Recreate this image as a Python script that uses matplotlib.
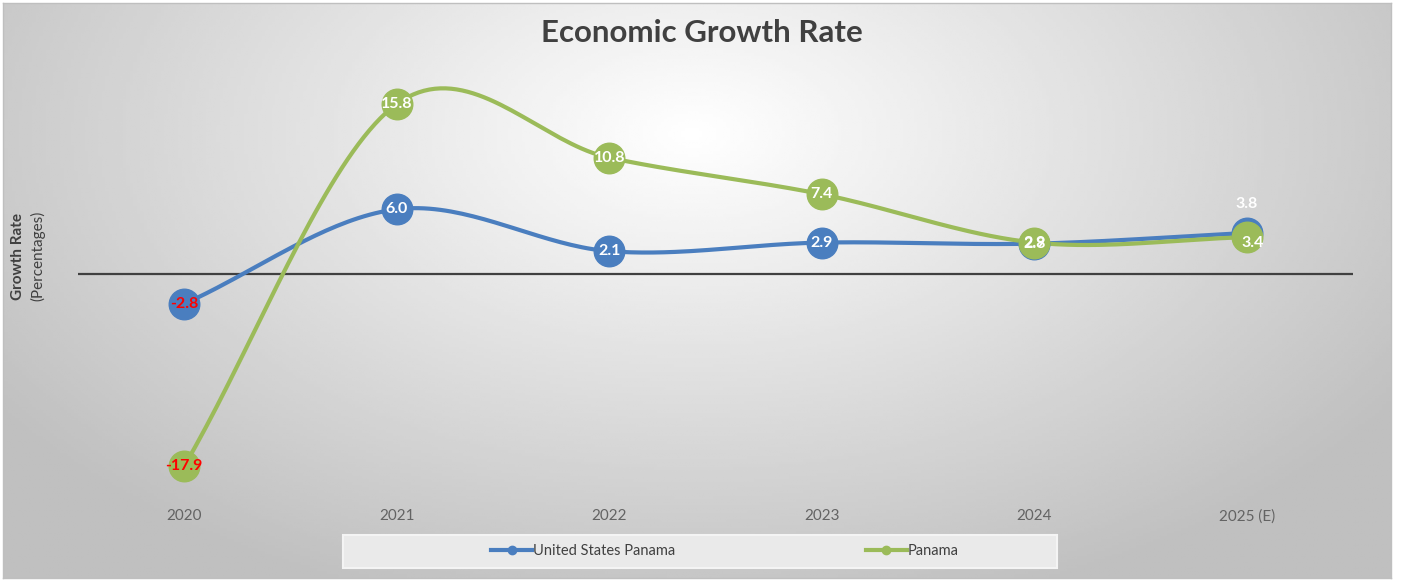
import numpy as np
import matplotlib
matplotlib.use('Agg')
import matplotlib.pyplot as plt
from matplotlib.patches import Rectangle
from matplotlib.lines import Line2D

# growth rates (%) by year
years = ['2020', '2021', '2022', '2023', '2024', '2025 (E)']
us_growth = [-2.8, 6.0, 2.1, 2.9, 2.8, 3.8]
panama_growth = [-17.9, 15.8, 10.8, 7.4, 2.9, 3.4]
series_names = ['United States Panama', 'Panama']

BLUE = '#4A7EBF'
GREEN = '#9BBB59'

plt.rcParams['font.family'] = ['Lato', 'DejaVu Sans']


def smooth(xs, ys, n=40):
    # Catmull-Rom curve through the points, like a spreadsheet "smoothed line"
    px = np.concatenate([[2 * xs[0] - xs[1]], xs, [2 * xs[-1] - xs[-2]]])
    py = np.concatenate([[2 * ys[0] - ys[1]], ys, [2 * ys[-1] - ys[-2]]])
    out_x, out_y = [], []
    t = np.linspace(0, 1, n)
    for i in range(1, len(px) - 2):
        for p, out in ((px, out_x), (py, out_y)):
            p0, p1, p2, p3 = p[i - 1], p[i], p[i + 1], p[i + 2]
            c1 = p1 + (p2 - p0) / 6
            c2 = p2 - (p3 - p1) / 6
            out.extend((1 - t) ** 3 * p1 + 3 * (1 - t) ** 2 * t * c1
                       + 3 * (1 - t) * t ** 2 * c2 + t ** 3 * p2)
    return np.array(out_x), np.array(out_y)


fig = plt.figure(figsize=(14.03, 5.81), dpi=100)

# gray radial backdrop of the chart area
bg = fig.add_axes([3 / 1403, 3 / 581, 1388 / 1403, 575 / 581])
gx, gy = np.meshgrid(np.linspace(0, 1388, 400), np.linspace(0, 575, 200))
d = np.sqrt(((gx - 690) / 850) ** 2 + ((gy - 130) / 500) ** 2)
shade = 1.0 - 0.25 * np.clip(d, 0, 1) ** 1.0
bg.imshow(shade, cmap='gray', vmin=0, vmax=1, aspect='auto',
          extent=[0, 1388, 575, 0])
bg.set_xticks([])
bg.set_yticks([])
for s in bg.spines.values():
    s.set_color('#BFBFBF')
    s.set_linewidth(1)

ax = fig.add_axes([78 / 1403, 1 - 495 / 581, 1275 / 1403, 420 / 581])
ax.patch.set_alpha(0)
x = np.arange(len(years))

for vals, color in ((us_growth, BLUE), (panama_growth, GREEN)):
    sx, sy = smooth(x.astype(float), np.array(vals))
    ax.plot(sx, sy, color=color, lw=3, solid_capstyle='round', zorder=3)
    ax.plot(x, vals, 'o', color=color, ms=22, zorder=4)

ax.axhline(0, color='#404040', lw=1.6, zorder=2)


def put_label(xi, v, dy=0, color='white'):
    c = 'red' if v < 0 else color
    ax.annotate(f'{v:.1f}', (xi, v), xytext=(0, dy), textcoords='offset points',
                ha='center', va='center', fontsize=11.5, fontweight='bold',
                color=c, zorder=6)


for i, v in enumerate(us_growth):
    if i == len(us_growth) - 1:
        put_label(i, v, dy=21)
    else:
        put_label(i, v)
for i, v in enumerate(panama_growth):
    if i == len(panama_growth) - 1:
        put_label(i + 0.03, v, dy=-4)
    else:
        put_label(i, v)

ax.set_xlim(-0.5, 5.5)
ax.set_ylim(-20.6, 18.5)
ax.set_yticks([])
ax.set_xticks(x)
ax.set_xticklabels(years, fontsize=11, color='#636363')
ax.tick_params(axis='x', length=0, pad=10)
for s in ax.spines.values():
    s.set_visible(False)

fig.text(0.5, 1 - 33 / 581, 'Economic Growth Rate', ha='center', va='center',
         fontsize=22.5, fontweight='bold', color='#404040')
fig.text(18 / 1403, 1 - 256 / 581, 'Growth Rate', rotation=90, ha='center',
         va='center', fontsize=11, fontweight='bold', color='#404040')
fig.text(38 / 1403, 1 - 256 / 581, '(Percentages)', rotation=90, ha='center',
         va='center', fontsize=11, color='#404040')

# legend panel
fig.patches.append(Rectangle((343 / 1403, 1 - 568 / 581), 714 / 1403, 33 / 581,
                             transform=fig.transFigure, facecolor='#EAEAEA',
                             edgecolor='#F4F4F4', lw=1.5, zorder=1))
handles = [Line2D([], [], color=BLUE, lw=3, marker='o', ms=6),
           Line2D([], [], color=GREEN, lw=3, marker='o', ms=6)]
fig.legend(handles, series_names, loc='center left',
           bbox_to_anchor=(478 / 1403, 1 - 551 / 581), ncol=2, frameon=False,
           fontsize=10.5, handlelength=2.8, handletextpad=0.05,
           columnspacing=13.1, labelcolor='#404040')

fig.savefig('out.png', dpi=100)
